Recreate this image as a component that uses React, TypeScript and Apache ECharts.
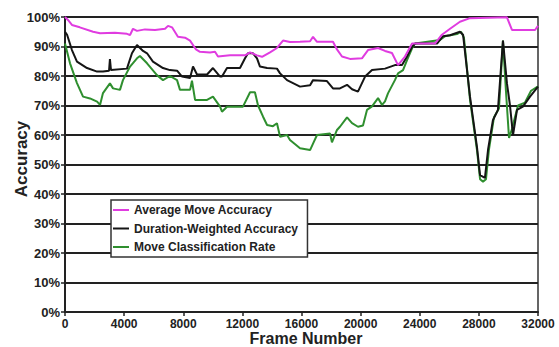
import React, { useEffect, useRef } from "react";
import * as echarts from "echarts";

// ---- data (frame number, accuracy %) ----
const seriesNames = [
  "Average Move Accuracy",
  "Duration-Weighted Accuracy",
  "Move Classification Rate",
];

const avgMoveAccuracy: [number, number][] = [
  [0, 100], [200, 99], [470, 97.3], [1000, 96.5], [1900, 95], [2370, 94.5],
  [3380, 94.7], [4190, 94.3], [4400, 93.9], [4600, 96], [4870, 95.3],
  [5410, 95.8], [6090, 95.6], [6770, 96], [6970, 97], [7240, 96.5],
  [7640, 93.3], [8120, 93], [8460, 92], [8860, 89], [9130, 88.2],
  [9810, 88], [10150, 88.2], [10350, 86.6], [11160, 87], [12180, 87],
  [12520, 88], [12990, 87], [13330, 86.5], [13870, 88], [14340, 89.5],
  [14750, 92], [15220, 91.5], [15900, 91.6], [16580, 91.8], [16780, 93.3],
  [17050, 91.6], [18130, 91.6], [18400, 89], [18740, 86.6], [19280, 85.8],
  [20090, 86], [20500, 88.8], [21180, 89.5], [21650, 88.5], [22120, 87.8],
  [22530, 83.7], [23000, 86.6], [23480, 91], [25030, 91], [25500, 94],
  [26050, 96], [26720, 98.4], [27400, 99.6], [29900, 99.9], [30240, 95.6],
  [31800, 95.6], [32000, 97],
];

const durationWeighted: [number, number][] = [
  [0, 95], [140, 94], [470, 88.8], [810, 84.9], [1490, 82.7], [2170, 81.5],
  [2570, 81.5], [2980, 81.8], [3040, 85.7], [3110, 82], [4190, 82.5],
  [4530, 87.7], [4870, 90.5], [5280, 88.5], [5550, 87.7], [5950, 84.9],
  [6630, 82.7], [7100, 82], [7580, 81.8], [7920, 79.8], [8460, 79.3],
  [8660, 83.2], [8930, 80.5], [9610, 80.5], [10010, 82.7], [10490, 79.8],
  [10620, 79.8], [10960, 82.7], [11840, 82.7], [12180, 86], [12380, 87.7],
  [12720, 87.7], [12990, 86], [13190, 83.2], [13670, 82.7], [14340, 82.5],
  [14550, 80.9], [15020, 78.6], [15900, 76.4], [16580, 76.9], [16780, 78.6],
  [17720, 78.3], [18130, 75.8], [18600, 75.8], [19080, 77], [19420, 75.5],
  [19820, 74.7], [20300, 79.8], [20770, 82], [21650, 82.5], [22320, 83.7],
  [22800, 83.7], [23140, 86.6], [23480, 89.9], [23680, 91], [25170, 91],
  [25570, 93.5], [26050, 93.8], [26720, 95], [26930, 94], [27400, 73],
  [27870, 56], [28080, 46.4], [28410, 45.5], [28620, 55], [28950, 65],
  [29290, 68.5], [29630, 92], [29900, 77.5], [30100, 70.2], [30310, 60],
  [30580, 68.5], [30980, 69.6], [31460, 73], [32000, 76.4],
];

const moveClassification: [number, number][] = [
  [0, 91], [340, 84.3], [810, 77.6], [1220, 73], [1690, 72.4], [2170, 71.3],
  [2370, 70.2], [2570, 74.2], [3040, 77.5], [3250, 75.8], [3720, 75.3],
  [3920, 78.6], [4400, 83.2], [4870, 86], [5070, 86.8], [5550, 84.3],
  [6220, 80.3], [6630, 78.6], [7100, 80], [7580, 78.6], [7780, 75.3],
  [8460, 75.3], [8590, 78.4], [8800, 71.9], [9610, 71.9], [10010, 73],
  [10490, 69.6], [10620, 67.9], [10960, 69.6], [12040, 69.6], [12520, 74.5],
  [12850, 74.5], [13060, 70], [13400, 66.2], [13670, 63.4], [14070, 63],
  [14340, 64], [14550, 59.4], [15020, 60], [15220, 58.3], [15900, 55.5],
  [16580, 54.9], [16780, 57.1], [17050, 60], [17930, 60.5], [18060, 57.5],
  [18400, 61.7], [18600, 62.8], [19080, 66], [19420, 64], [19820, 62.8],
  [20160, 63.2], [20430, 68.5], [20770, 69.7], [21180, 72.5], [21450, 70.2],
  [21650, 71.4], [21850, 74.1], [22320, 78.6], [22530, 80.9], [22870, 82],
  [23140, 85.4], [23480, 89.4], [23680, 91], [25370, 92.2], [25710, 93.5],
  [26520, 94.2], [26790, 95], [26990, 93], [27400, 72], [27870, 55],
  [28080, 45], [28280, 44.2], [28480, 45], [28680, 55], [29020, 66],
  [29360, 69], [29630, 92], [29830, 75], [30040, 59], [30240, 62],
  [30440, 66], [30650, 70], [31120, 71], [31530, 75], [32000, 76.5],
];

const seriesColors = ["#e03ce0", "#151515", "#2f8f2f"];
const xTickInterval = 4000;
const yTickInterval = 10;

const FONT = "'Liberation Sans', Arial, Helvetica, sans-serif";

export default function App() {
  const ref = useRef<HTMLDivElement>(null);

  useEffect(() => {
    if (!ref.current) return;
    const chart = echarts.init(ref.current, null, { renderer: "svg" });
    const datasets = [avgMoveAccuracy, durationWeighted, moveClassification];
    const zs = [5, 4, 3];
    chart.setOption({
      animation: false,
      backgroundColor: "#ffffff",
      grid: {
        left: 65,
        right: 21,
        top: 17,
        bottom: 35,
        show: true,
        borderColor: "#333",
        borderWidth: 1.5,
        backgroundColor: "transparent",
      },
      xAxis: {
        type: "value",
        min: 0,
        max: 32000,
        interval: xTickInterval,
        axisLine: { show: true, lineStyle: { color: "#222", width: 2 } },
        axisTick: { show: true, length: 4, lineStyle: { color: "#222", width: 1.5 } },
        splitLine: { show: false },
        axisLabel: {
          color: "#222",
          fontFamily: FONT,
          fontWeight: "bold",
          fontSize: 12,
          margin: 6,
          formatter: (v: number) => String(v),
        },
      },
      yAxis: {
        type: "value",
        min: 0,
        max: 100,
        interval: yTickInterval,
        axisLine: { show: true, lineStyle: { color: "#222", width: 2 } },
        axisTick: { show: true, length: 4, lineStyle: { color: "#222", width: 1.5 } },
        splitLine: { show: true, lineStyle: { color: "#222", width: 2 } },
        axisLabel: {
          color: "#222",
          fontFamily: FONT,
          fontWeight: "bold",
          fontSize: 13,
          margin: 5,
          formatter: "{value}%",
        },
      },
      legend: {
        orient: "vertical",
        left: 111,
        top: 200,
        data: seriesNames,
        icon: "rect",
        itemWidth: 16,
        itemHeight: 2,
        itemGap: 4.5,
        padding: [3, 9, 3, 2],
        backgroundColor: "#ffffff",
        borderColor: "#333",
        borderWidth: 1.5,
        borderRadius: 0,
        textStyle: {
          color: "#222",
          fontFamily: FONT,
          fontWeight: "bold",
          fontSize: 12,
          lineHeight: 14,
        },
      },
      graphic: [
        {
          type: "text",
          x: 306,
          y: 338.5,
          style: {
            text: "Frame Number",
            fill: "#222",
            font: `bold 16px ${FONT}`,
            align: "center",
            verticalAlign: "middle",
          },
        },
        {
          type: "text",
          x: 21,
          y: 159,
          rotation: Math.PI / 2,
          style: {
            text: "Accuracy",
            fill: "#222",
            font: `bold 17px ${FONT}`,
            align: "center",
            verticalAlign: "middle",
          },
        },
      ],
      series: seriesNames.map((name, i) => ({
        name,
        type: "line",
        data: datasets[i],
        showSymbol: false,
        symbol: "none",
        z: zs[i],
        color: seriesColors[i],
        lineStyle: { color: seriesColors[i], width: 2 },
      })),
    });
    return () => chart.dispose();
  }, []);

  return (
    <div
      ref={ref}
      style={{ position: "fixed", left: 0, top: 0, width: 559, height: 347 }}
    />
  );
}
